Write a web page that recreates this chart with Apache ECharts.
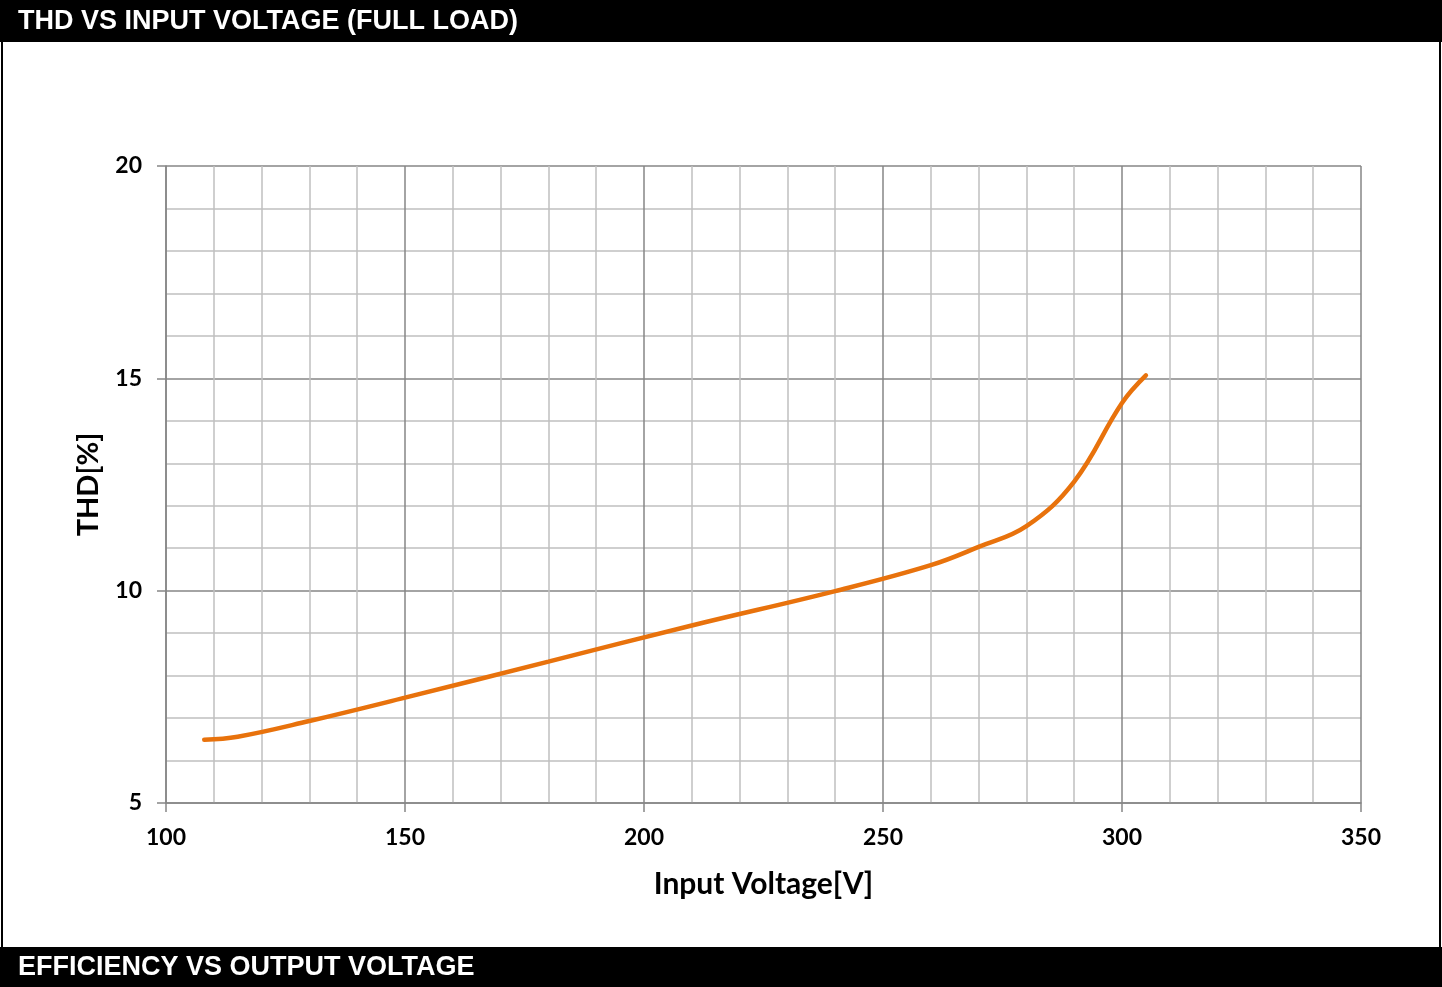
<!DOCTYPE html>
<html>
<head>
<meta charset="utf-8">
<script src="https://cdn.jsdelivr.net/npm/echarts@6/dist/echarts.min.js"></script>
<style>
html,body{margin:0;padding:0;background:#fff;}
#c{width:1442px;height:987px;}
</style>
</head>
<body>
<div id="c"></div>
<script>
const titleTop = 'THD VS INPUT VOLTAGE (FULL LOAD)';
const titleBottom = 'EFFICIENCY VS OUTPUT VOLTAGE';
const xName = 'Input Voltage[V]';
const yName = 'THD[%]';
const voltage = [108, 115, 130, 150, 180, 210, 240, 260, 270, 280, 290, 300, 305];
const thd = [6.49, 6.56, 6.93, 7.48, 8.33, 9.18, 9.99, 10.60, 11.03, 11.52, 12.57, 14.42, 15.07];

const chart = echarts.init(document.getElementById('c'), null, {renderer: 'canvas'});
const lab = {fontFamily: 'Lato', fontWeight: 'bold', fontSize: 23, color: '#000'};
const major = '#868686', minor = '#c0c0c0';
chart.setOption({
  animation: false,
  backgroundColor: '#fff',
  grid: {left: 166, right: 81, top: 166, bottom: 184, containLabel: false},
  xAxis: {
    type: 'value', min: 100, max: 350, interval: 50,
    name: xName, nameLocation: 'middle', nameGap: 66,
    nameTextStyle: {fontFamily: 'Lato', fontWeight: 'bold', fontSize: 30, color: '#000'},
    axisLine: {show: true, lineStyle: {color: major, width: 1.5}},
    axisTick: {show: true, length: 9, lineStyle: {color: major, width: 1.5}},
    axisLabel: Object.assign({margin: 23}, lab),
    splitLine: {show: true, lineStyle: {color: major, width: 1.5}},
    minorTick: {show: false, splitNumber: 5},
    minorSplitLine: {show: true, lineStyle: {color: minor, width: 1.5}}
  },
  yAxis: {
    type: 'value', min: 5, max: 20, interval: 5,
    name: yName, nameLocation: 'middle', nameGap: 63, nameRotate: 90,
    nameTextStyle: {fontFamily: 'Lato', fontWeight: 'bold', fontSize: 29, color: '#000'},
    axisLine: {show: true, lineStyle: {color: major, width: 1.5}},
    axisTick: {show: true, length: 9, lineStyle: {color: major, width: 1.5}},
    axisLabel: Object.assign({margin: 24}, lab),
    splitLine: {show: true, lineStyle: {color: major, width: 1.5}},
    minorTick: {show: false, splitNumber: 5},
    minorSplitLine: {show: true, lineStyle: {color: minor, width: 1.5}}
  },
  series: [{
    type: 'line', data: voltage.map((v, i) => [v, thd[i]]),
    smooth: 0.4, showSymbol: false,
    lineStyle: {color: '#E8720C', width: 4.5, cap: 'round'}
  }],
  graphic: [
    {type: 'rect', shape: {x: 0, y: 0, width: 1442, height: 42}, style: {fill: '#000'}},
    {type: 'text', x: 18, y: 22, style: {text: titleTop, fill: '#fff', font: 'bold 27px "Liberation Sans", Arial', textVerticalAlign: 'middle', verticalAlign: 'middle'}},
    {type: 'rect', shape: {x: 0, y: 947, width: 1442, height: 40}, style: {fill: '#000'}},
    {type: 'text', x: 18, y: 968, style: {text: titleBottom, fill: '#fff', font: 'bold 27px "Liberation Sans", Arial', textVerticalAlign: 'middle', verticalAlign: 'middle'}},
    {type: 'rect', shape: {x: 1, y: 0, width: 2, height: 987}, style: {fill: '#000'}},
    {type: 'rect', shape: {x: 1439, y: 0, width: 2, height: 987}, style: {fill: '#000'}}
  ]
});
</script>
</body>
</html>
